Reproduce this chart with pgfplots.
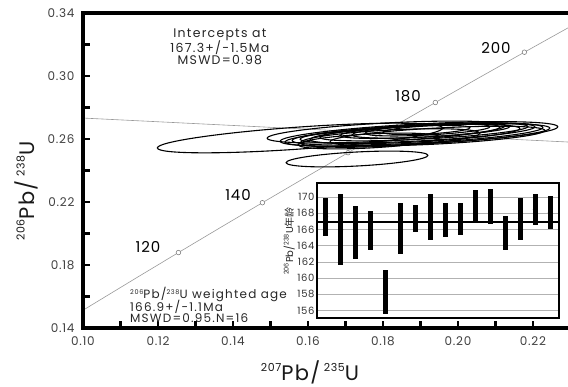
\documentclass[border=0pt]{standalone}
\usepackage{fontspec}
\setmainfont{Poppins}
\newfontfamily\wide{Poppins}[LetterSpace=6]
\newfontfamily\wider{Poppins}[LetterSpace=10]
\newfontfamily\cjk{Noto Sans CJK SC}
\usepackage{pgfplots}
\pgfplotsset{compat=1.18}
\usepackage{pgfplotstable}

\newcommand\supA[1]{\raisebox{9.5pt}{\fontsize{11}{11}\selectfont #1}}
\newcommand\supB[1]{\raisebox{4.5pt}{\fontsize{6.5}{6.5}\selectfont #1}}

\pgfdeclareplotmark{ell}{%
  \pgfpathellipse{\pgfpointorigin}{\pgfpointpolar{\ellR}{\ellA pt}}{\pgfpointpolar{\ellR+90}{\ellB pt}}%
  \pgfusepathqstroke}

% concordia (t = 96.8 ... 210.2 Ma)
\pgfplotstableread{
x y
0.10000 0.15126
0.10350 0.15633
0.11442 0.17210
0.12545 0.18789
0.13659 0.20371
0.14784 0.21955
0.15920 0.23542
0.17068 0.25131
0.18226 0.26722
0.19396 0.28316
0.20577 0.29912
0.21771 0.31511
0.23000 0.33144
}\concordia

% ellipses: centre, semi-axes (pt), tilt (deg)
\pgfplotstableread{
x y a b r
0.15787 0.26063 143 11 4
0.17307 0.24730 71 7 3
0.18080 0.26444 119 9 3
0.18960 0.26317 139 10 3
0.18920 0.26254 132.5 9 3
0.18920 0.26317 125.5 9 3
0.18920 0.26381 117.5 8 3
0.18853 0.26317 105 8 3
0.19093 0.26444 104 7 3
0.19120 0.26508 85 6 3
0.19147 0.26508 74 6 3
0.19187 0.26571 62.5 5 3
0.19160 0.26571 43.5 4 3
0.17627 0.25873 71 7 3
0.19453 0.26190 107.5 8 3
0.18187 0.26063 90 8 3
}\ellipses

% inset: weighted-mean ages
\pgfplotstableread{
n mid err
1 167.55 2.35
2 165.95 4.35
3 165.575 3.275
4 165.80 2.40
5 158.30 2.70
6 166.075 3.125
7 167.35 1.70
8 167.50 2.80
9 167.125 2.125
10 167.25 1.95
11 168.825 1.975
12 168.80 2.15
13 165.55 2.10
14 167.30 2.60
15 168.45 1.95
16 168.05 2.05
}\ages

\begin{document}
\begin{tikzpicture}
\begin{axis}[
  at={(0pt,0pt)}, anchor=south west,
  scale only axis, width=487.5pt, height=315pt,
  xmin=0.10, xmax=0.23, ymin=0.14, ymax=0.34,
  clip=false,
  xtick={0.10,0.12,0.14,0.16,0.18,0.20,0.22},
  minor xtick={0.11,0.13,0.15,0.17,0.19,0.21},
  ytick={0.14,0.18,0.22,0.26,0.30,0.34},
  minor ytick={0.16,0.20,0.24,0.28,0.32},
  tick align=inside, xtick pos=bottom, ytick pos=left,
  major tick length=7pt, minor tick length=7pt,
  tick style={black, line width=2.2pt},
  every tick/.append style={black, line width=2.2pt},
  axis lines*=left,
  axis line style={line width=3.5pt, black},
  /pgf/number format/.cd, fixed, fixed zerofill, precision=2, assume math mode=true,
  /pgfplots/.cd,
  tick label style={font=\wide\fontsize{12}{13}\selectfont, text=black!75},
  xticklabel style={yshift=-5pt},
  yticklabel style={xshift=-5pt},
  xlabel={\supA{207}Pb/\,\supA{235}U},
  ylabel={\supA{206}Pb/\,\supA{238}U},
  label style={font=\wide\fontsize{21}{24}\selectfont, text=black!90},
  xlabel style={at={(axis description cs:0.4656,-0.167)}, anchor=base},
  ylabel style={at={(axis description cs:-0.1005,0.435)}, anchor=base},
]
\addplot[gray!80, line width=0.6pt] table[x=x,y=y] {\concordia};
\addplot[gray!80, line width=0.6pt] coordinates {(0.10,0.2733) (0.23,0.2580)};
\addplot[only marks, mark=*, mark size=2.3pt, mark options={draw=gray, fill=white, line width=0.6pt}]
  coordinates {(0.12545,0.18789) (0.14784,0.21955) (0.17068,0.25131) (0.19396,0.28316) (0.21771,0.31511)};
\addplot[scatter, only marks, mark=ell,
  scatter/use mapped color={draw=black, fill=none},
  mark options={line width=1.1pt},
  visualization depends on={\thisrow{a}\as\ellA},
  visualization depends on={\thisrow{b}\as\ellB},
  visualization depends on={\thisrow{r}\as\ellR},
] table[x=x,y=y] {\ellipses};

\draw[black, line width=3.5pt, line cap=rect] (rel axis cs:0,0) -- (rel axis cs:0,1) -- (rel axis cs:1,1);
\draw[black, line width=3.5pt, line cap=rect] (rel axis cs:0,0) -- (rel axis cs:1,0);

\node[font=\wide\fontsize{15}{15}\selectfont] at (axis cs:0.11733,0.19143) {120};
\node[font=\wide\fontsize{15}{15}\selectfont] at (axis cs:0.14133,0.22444) {140};
\node[font=\wide\fontsize{15}{15}\selectfont] at (axis cs:0.18667,0.28730) {180};
\node[font=\wide\fontsize{15}{15}\selectfont] at (axis cs:0.21013,0.31778) {200};

\node[align=center, inner sep=0pt, font=\wider\fontsize{12.5}{12.5}\selectfont, text=black!85] at (axis cs:0.1365,0.31841)
  {Intercepts at\\[-0.8pt]167.3+/-1.5Ma\\[-0.8pt]MSWD=0.98};
\node[align=left, anchor=north west, inner sep=0pt, font=\wider\fontsize{12}{12}\selectfont, text=black!85] at (axis cs:0.11253,0.16603)
  {\supB{206}Pb/\supB{238}U weighted age\\[-2.5pt]166.9+/-1.1Ma\\[-1.5pt]MSWD=0.95.N=16};
\end{axis}

\begin{axis}[
  at={(234pt,10pt)}, anchor=south west,
  scale only axis, width=242pt, height=135pt,
  xmin=0.4, xmax=16.6, ymin=155.1, ymax=171.7,
  clip=false,
  xtick=\empty, ytick={156,158,160,162,164,166,168,170},
  ymajorgrids, grid style={gray!60, line width=0.6pt},
  major tick length=0pt,
  axis background/.style={fill=white},
  /pgf/number format/assume math mode=true,
  tick label style={font=\wide\fontsize{10}{12}\selectfont, text=black!80},
  yticklabel style={xshift=1pt},
  ylabel={\supB{206}Pb/\supB{238}U{\cjk 年龄}},
  ylabel style={at={(axis description cs:-0.099,0.57)}, anchor=base, font=\fontsize{10}{12}\selectfont, text=black!85},
]
\addplot[only marks, mark=none,
  error bars/.cd, y dir=both, y explicit, error mark=none,
  error bar style={draw=black, line width=5pt}]
  table[x=n, y=mid, y error=err] {\ages};
\addplot[black, line width=2pt] coordinates {(0.5,166.9) (16.5,166.9)};
\draw[black, line width=2.2pt] (rel axis cs:0,0) rectangle (rel axis cs:1,1);
\end{axis}
\pgfresetboundingbox
\path[use as bounding box] (-83pt,-59pt) rectangle (485pt,328pt);
\end{tikzpicture}
\end{document}
